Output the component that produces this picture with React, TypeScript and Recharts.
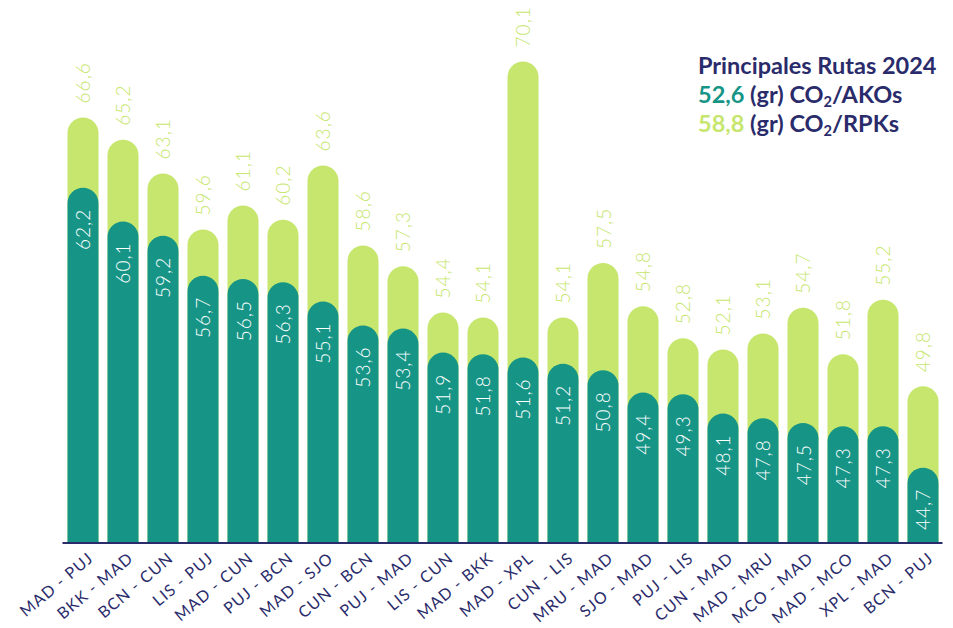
import React from 'react';
import { BarChart, Bar, XAxis, YAxis, LabelList } from 'recharts';

const categories = [
  'MAD - PUJ', 'BKK - MAD', 'BCN - CUN', 'LIS - PUJ', 'MAD - CUN', 'PUJ - BCN',
  'MAD - SJO', 'CUN - BCN', 'PUJ - MAD', 'LIS - CUN', 'MAD - BKK', 'MAD - XPL',
  'CUN - LIS', 'MRU - MAD', 'SJO - MAD', 'PUJ - LIS', 'CUN - MAD', 'MAD - MRU',
  'MCO - MAD', 'MAD - MCO', 'XPL - MAD', 'BCN - PUJ',
];
const akoValues = [
  62.2, 60.1, 59.2, 56.7, 56.5, 56.3, 55.1, 53.6, 53.4, 51.9, 51.8, 51.6,
  51.2, 50.8, 49.4, 49.3, 48.1, 47.8, 47.5, 47.3, 47.3, 44.7,
];
const rpkValues = [
  66.6, 65.2, 63.1, 59.6, 61.1, 60.2, 63.6, 58.6, 57.3, 54.4, 54.1, 70.1,
  54.1, 57.5, 54.8, 52.8, 52.1, 53.1, 54.7, 51.8, 55.2, 49.8,
];
const titleText = 'Principales Rutas 2024';
const akoAverage = 52.6;
const rpkAverage = 58.8;

const TEAL = '#169587';
const GREEN = '#c6e66e';
const NAVY = '#2a2b6b';
const FONT = 'Lato, "Open Sans", sans-serif';

const data = categories.map((name, i) => ({ name, ako: akoValues[i], rpk: rpkValues[i] }));

const fmt = (v: number) => v.toFixed(1).replace('.', ',');

const RpkLabel = (props: any) => {
  const { x, y, width, value } = props;
  const cx = Number(x) + Number(width) / 2;
  const ty = Number(y) - 14;
  return (
    <text
      x={cx}
      y={ty}
      transform={`rotate(-90, ${cx}, ${ty})`}
      textAnchor="start"
      dominantBaseline="central"
      fill={GREEN}
      fontSize={19}
      fontWeight={300}
      letterSpacing={1}
      fontFamily={FONT}
    >
      {fmt(Number(value))}
    </text>
  );
};

const AkoLabel = (props: any) => {
  const { x, y, width, value } = props;
  const cx = Number(x) + Number(width) / 2;
  const ty = Number(y) + 21;
  return (
    <text
      x={cx}
      y={ty}
      transform={`rotate(-90, ${cx}, ${ty})`}
      textAnchor="end"
      dominantBaseline="central"
      fill="#ffffff"
      fontSize={19}
      fontWeight={300}
      letterSpacing={1}
      fontFamily={FONT}
    >
      {fmt(Number(value))}
    </text>
  );
};

const XTick = (props: any) => {
  const { x, payload } = props;
  const tx = Number(x) + 12;
  const ty = 552;
  return (
    <text
      transform={`translate(${tx}, ${ty}) rotate(-40)`}
      textAnchor="end"
      fill={NAVY}
      fontSize={16}
      fontWeight={400}
      letterSpacing={1.1}
      fontFamily={FONT}
    >
      {payload.value}
    </text>
  );
};

const subStyle: React.CSSProperties = { fontSize: '0.62em', verticalAlign: '-0.3em', lineHeight: 0 };

export default function App() {
  return (
    <div style={{ position: 'relative', width: 937, height: 620, padding: '8px 0 0 8px' }}>
      <style>{'html,body{margin:0;overflow:hidden} svg.recharts-surface{overflow:visible}'}</style>
      <BarChart
        width={937}
        height={620}
        data={data}
        margin={{ top: 23, right: 2.5, left: 54.5, bottom: 8 }}
        barGap={-31}
      >
        <YAxis hide domain={[40, 72]} allowDataOverflow />
        <XAxis
          dataKey="name"
          height={77}
          interval={0}
          tickLine={false}
          axisLine={{ stroke: NAVY, strokeWidth: 2 }}
          tick={<XTick />}
        />
        <Bar dataKey="rpk" fill={GREEN} barSize={31} radius={[15.5, 15.5, 0, 0]} isAnimationActive={false}>
          <LabelList dataKey="rpk" content={<RpkLabel />} />
        </Bar>
        <Bar dataKey="ako" fill={TEAL} barSize={31} radius={[15.5, 15.5, 0, 0]} isAnimationActive={false}>
          <LabelList dataKey="ako" content={<AkoLabel />} />
        </Bar>
      </BarChart>
      <div
        style={{
          position: 'absolute',
          left: 698,
          top: 51,
          fontFamily: FONT,
          fontWeight: 700,
          fontSize: 23.5,
          lineHeight: '29px',
          color: NAVY,
          whiteSpace: 'nowrap',
        }}
      >
        <div>{titleText}</div>
        <div>
          <span style={{ color: TEAL }}>{fmt(akoAverage)}</span> (gr) CO<sub style={subStyle}>2</sub>/AKOs
        </div>
        <div>
          <span style={{ color: GREEN }}>{fmt(rpkAverage)}</span> (gr) CO<sub style={subStyle}>2</sub>/RPKs
        </div>
      </div>
    </div>
  );
}
